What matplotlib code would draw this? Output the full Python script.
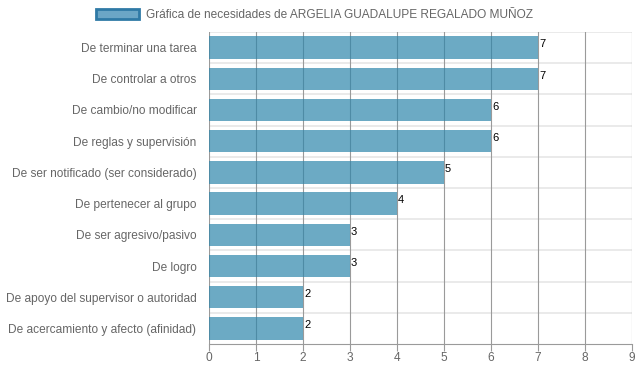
import matplotlib
matplotlib.use("Agg")
import matplotlib.pyplot as plt
from matplotlib.patches import Patch

plt.rcParams['font.family'] = ['Liberation Sans', 'DejaVu Sans']

# data
categories = ["De terminar una tarea", "De controlar a otros", "De cambio/no modificar",
              "De reglas y supervisión", "De ser notificado (ser considerado)",
              "De pertenecer al grupo", "De ser agresivo/pasivo", "De logro",
              "De apoyo del supervisor o autoridad", "De acercamiento y afecto (afinidad)"]
values = [7, 7, 6, 6, 5, 4, 3, 3, 2, 2]
x_ticks = list(range(0, 10))
legend_label = "Gráfica de necesidades de ARGELIA GUADALUPE REGALADO MUÑOZ"

fig = plt.figure(figsize=(6.39, 3.72), dpi=100)
ax = fig.add_axes([209 / 639, 1 - 344 / 372, 423 / 639, 312 / 372])

ypos = list(range(len(categories)))
ax.barh(ypos, values, height=0.72, color='#2E86AB', alpha=0.7, zorder=2)

for y, v in zip(ypos, values):
    ax.text(v + 0.02, y - 0.1, str(v), fontsize=8, color='black', va='center', ha='left', zorder=3)

ax.set_xlim(0, 9)
ax.set_ylim(len(categories) - 0.5, -0.5)
ax.set_xticks(x_ticks)
ax.set_yticks(ypos)
ax.set_yticklabels(categories)

# vertical grid
for t in x_ticks:
    ax.axvline(t, color='#9a9a9a', lw=0.8, zorder=1)
# horizontal separators between categories
for b in range(len(categories)):
    ax.axhline(b - 0.5, color='#e6e6e6', lw=1.2, zorder=0)

for s in ['top', 'right', 'left']:
    ax.spines[s].set_visible(False)
ax.spines['bottom'].set_color('#9a9a9a')
ax.spines['bottom'].set_linewidth(0.8)

ax.tick_params(axis='x', colors='#666666', labelsize=8.6, length=5, width=0.8, pad=1)
ax.tick_params(axis='x', color='#9a9a9a')
ax.tick_params(axis='y', colors='#666666', labelsize=8.6, length=0, pad=9)

handle = Patch(facecolor='#6BA6C6', edgecolor='#2f7aa6', linewidth=2)
fig.legend([handle], [legend_label], loc='upper center', bbox_to_anchor=(0.492, 1.005),
           frameon=False, fontsize=8.6, handlelength=3.6, handleheight=0.9,
           handletextpad=0.6, labelcolor='#666666')

fig.savefig("out.png", dpi=100)
